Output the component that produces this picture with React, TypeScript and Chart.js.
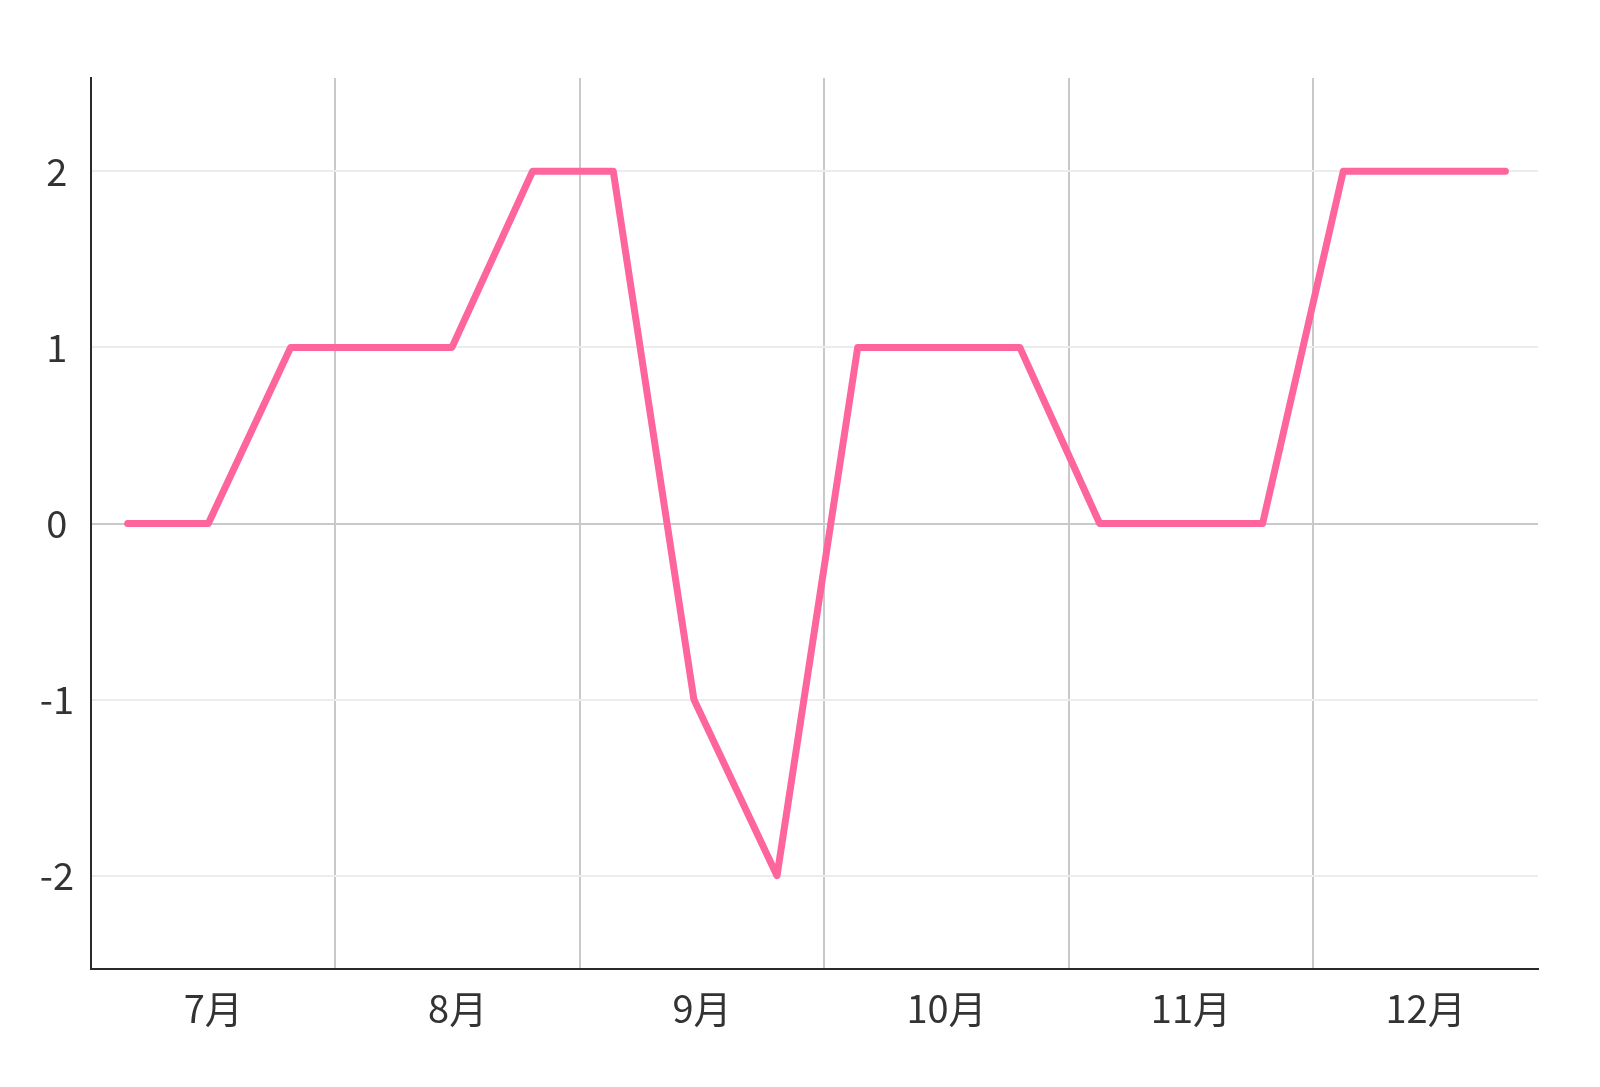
import React, { useEffect, useRef } from "react";
import { Chart, registerables } from "chart.js";

Chart.register(...registerables);

// x positions in days from 1 July (each month treated as 30 days)
const pointDays = [4.5, 14.4, 24.5, 34.4, 44.3, 54.2, 64.1, 74.0, 84.2, 94.1, 104.0, 114.0, 123.8, 133.9, 143.8, 153.7, 163.7, 173.6];
const values = [0, 0, 1, 1, 1, 2, 2, -1, -2, 1, 1, 1, 0, 0, 0, 2, 2, 2];

const monthLabels = ["7月", "8月", "9月", "10月", "11月", "12月"];
const monthStarts = [0, 30, 60, 90, 120, 150];
const monthCenters = [15, 45, 75, 105, 135, 163.8];
const xMin = 0;
const xMax = 177.6;

const yTicks = [-2, -1, 0, 1, 2];
const yMin = -2.53;
const yMax = 2.53;

const FONT = "'Noto Sans CJK JP', 'Noto Sans', sans-serif";

export default function App() {
  const ref = useRef<HTMLCanvasElement | null>(null);

  useEffect(() => {
    if (!ref.current) return;
    const xTickDefs: { value: number; kind: "b" | "c"; label: string }[] = [];
    monthStarts.forEach((s, i) => {
      xTickDefs.push({ value: s, kind: "b", label: "" });
      xTickDefs.push({ value: monthCenters[i], kind: "c", label: monthLabels[i] });
    });

    const chart = new Chart(ref.current, {
      type: "line",
      data: {
        datasets: [
          {
            data: pointDays.map((d, i) => ({ x: d, y: values[i] })),
            borderColor: "#fd659c",
            borderWidth: 7,
            borderCapStyle: "round",
            borderJoinStyle: "round",
            pointRadius: 0,
            tension: 0,
            fill: false,
          },
        ],
      },
      options: {
        responsive: false,
        animation: false,
        layout: { padding: { left: 0, top: 78, right: 62, bottom: 0 } },
        plugins: { legend: { display: false }, tooltip: { enabled: false } },
        scales: {
          x: {
            type: "linear",
            min: xMin,
            max: xMax,
            afterBuildTicks: (scale: any) => {
              scale.ticks = xTickDefs.map((t) => ({ value: t.value }));
            },
            afterFit: (scale: any) => {
              scale.height = 118;
            },
            border: { display: true, color: "#2a2a2a", width: 2 },
            grid: {
              drawTicks: false,
              lineWidth: 2,
              color: (ctx: any) => {
                const t = xTickDefs[ctx.index];
                return t && t.kind === "b" && t.value > 0 ? "#c9c9c9" : "rgba(0,0,0,0)";
              },
            },
            ticks: {
              autoSkip: false,
              maxRotation: 0,
              padding: 17,
              color: "#333333",
              font: { family: FONT, size: 38 },
              callback: (_v: any, index: number) => xTickDefs[index]?.label ?? "",
            },
          },
          y: {
            type: "linear",
            min: yMin,
            max: yMax,
            afterBuildTicks: (scale: any) => {
              scale.ticks = yTicks.map((v) => ({ value: v }));
            },
            afterFit: (scale: any) => {
              scale.width = 91;
            },
            border: { display: true, color: "#2a2a2a", width: 2 },
            grid: {
              drawTicks: false,
              lineWidth: 2,
              color: (ctx: any) => (ctx.tick && ctx.tick.value === 0 ? "#c9c9c9" : "#ececec"),
            },
            ticks: {
              padding: 17,
              crossAlign: "center",
              color: "#333333",
              font: { family: FONT, size: 38 },
              callback: (v: any) => String(v),
            },
          },
        },
      },
    });
    return () => chart.destroy();
  }, []);

  return (
    <div style={{ position: "absolute", left: 0, top: 0, width: 1600, height: 1087, background: "#fff" }}>
      <canvas ref={ref} width={1600} height={1087} style={{ display: "block" }} />
    </div>
  );
}
